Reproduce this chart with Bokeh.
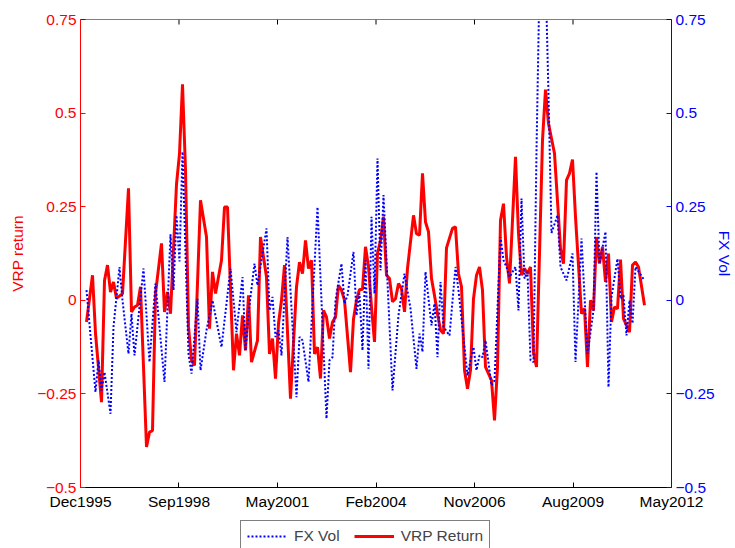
import math
from bokeh.plotting import figure
from bokeh.layouts import column
from bokeh.models import Range1d, LinearAxis, FixedTicker, Legend, LegendItem, Span
from bokeh.embed import file_html
from bokeh.resources import INLINE

# ---- data (month offsets counted from Dec 1995) ----
vrp_month = [2, 4, 5, 7, 8, 9, 10, 11, 12, 14, 16, 17, 18, 19, 20, 22, 23, 24, 25, 27,
             28, 29, 30, 32, 33, 34, 35, 36, 37, 38, 40, 42, 43, 44, 45, 47, 48, 49, 51, 52,
             53, 54, 55, 56, 57, 59, 60, 62, 63, 64, 65, 66, 67, 68, 70, 72, 73, 74, 75, 76,
             77, 78, 79, 80, 81, 82, 83, 84, 85, 86, 87, 88, 90, 91, 92, 93, 94, 95, 96, 97,
             98, 99, 100, 101, 102, 103, 104, 105, 106, 107, 108, 109, 110, 111, 112, 113, 114, 115, 116, 117,
             118, 119, 120, 121, 122, 124, 125, 126, 127, 128, 129, 130, 131, 132, 133, 134, 135, 137, 138, 139,
             140, 141, 142, 143, 145, 146, 147, 148, 149, 150, 151, 152, 154, 155, 156, 158, 160, 161, 162, 163,
             164, 165, 167, 168, 169, 170, 171, 172, 173, 174, 175, 176, 177, 178, 179, 180, 181, 182, 183, 184,
             185, 186, 188]
vrp_return = [-0.058, 0.067, -0.088, -0.272, 0.053, 0.094, 0.022, 0.049, 0.005, 0.018, 0.299, -0.031, -0.018, -0.013, 0.036, -0.392, -0.352, -0.348, 0.018, 0.152,
              -0.031, 0.022, -0.036, 0.310, 0.392, 0.577, 0.348, -0.071, -0.160, -0.174, 0.267, 0.169, -0.076, 0.076, 0.018, 0.107, 0.249, 0.249, -0.187, -0.089,
              -0.147, -0.040, -0.134, 0.013, -0.165, -0.107, 0.169, 0.062, -0.143, -0.102, -0.209, -0.062, 0.000, 0.094, -0.263, 0.036, 0.102, 0.071, 0.160, 0.085,
              0.107, -0.143, -0.125, -0.209, -0.027, -0.045, -0.102, -0.058, -0.045, 0.040, 0.027, 0.000, -0.192, -0.050, 0.000, 0.029, 0.029, 0.143, 0.089, -0.018,
              -0.111, 0.125, 0.160, 0.223, 0.067, 0.058, -0.004, 0.004, 0.045, 0.031, -0.031, 0.085, 0.156, 0.227, 0.178, 0.174, 0.339, 0.209, 0.183, 0.058,
              0.013, -0.036, -0.080, -0.089, 0.140, 0.192, 0.196, 0.071, 0.036, -0.187, -0.236, -0.187, 0.004, 0.067, 0.089, 0.027, -0.178, -0.214, -0.321, -0.178,
              0.214, 0.258, 0.116, 0.045, 0.383, 0.178, 0.067, 0.085, 0.071, 0.089, -0.140, -0.178, 0.428, 0.563, 0.472, 0.392, 0.138, 0.098, 0.321, 0.339,
              0.376, 0.223, -0.036, -0.022, -0.178, 0.000, -0.027, 0.169, 0.098, 0.143, 0.049, 0.125, -0.058, -0.018, -0.022, 0.109, -0.049, -0.067, -0.085, 0.094,
              0.102, 0.089, -0.013]

fx_month = [2, 5, 6, 7, 8, 10, 11, 13, 14, 16, 17, 18, 21, 23, 25, 28, 30, 31, 32, 33,
            34, 36, 37, 39, 40, 42, 44, 47, 50, 52, 54, 55, 56, 58, 59, 62, 63, 64, 65, 66,
            67, 69, 72, 73, 74, 76, 79, 82, 83, 84, 85, 87, 88, 89, 91, 92, 93, 94, 95, 96,
            97, 98, 99, 100, 101, 102, 104, 106, 108, 110, 112, 113, 114, 115, 117, 118, 119, 120, 121, 123,
            125, 126, 129, 130, 131, 132, 133, 134, 135, 137, 138, 140, 141, 142, 143, 145, 146, 147, 148, 149,
            150, 151, 152, 153, 155, 156, 157, 159, 160, 162, 164, 165, 167, 169, 171, 172, 173, 175, 176, 177,
            179, 180, 181, 182, 183, 184, 185, 188]
fx_vol = [0.027, -0.245, -0.160, -0.241, -0.192, -0.303, -0.071, 0.089, 0.000, -0.143, -0.036, -0.147, 0.085, -0.165, 0.045, -0.218, 0.176, 0.027, 0.227, 0.104,
          0.397, -0.143, -0.196, 0.004, -0.187, -0.080, 0.000, -0.125, 0.085, -0.085, 0.062, -0.134, -0.036, 0.098, 0.040, 0.192, -0.027, 0.009, -0.098, -0.080,
          -0.147, 0.169, -0.259, -0.098, -0.107, -0.218, 0.249, -0.316, -0.160, -0.152, 0.000, 0.098, -0.009, 0.013, 0.129, -0.040, 0.018, -0.134, 0.107, -0.183,
          0.223, 0.018, 0.379, 0.080, 0.281, 0.107, -0.241, -0.040, 0.071, -0.022, -0.183, -0.089, -0.138, 0.076, -0.067, -0.009, -0.152, 0.049, -0.071, -0.094,
          0.089, 0.027, -0.201, -0.160, -0.125, -0.187, -0.147, -0.152, -0.107, -0.227, -0.214, 0.169, 0.107, 0.089, 0.062, 0.089, -0.027, 0.272, 0.058, 0.076,
          -0.160, -0.165, 0.400, 0.850, 0.880, 0.550, 0.180, 0.227, 0.089, 0.053, 0.125, -0.165, 0.165, -0.143, -0.027, 0.343, 0.098, 0.183, -0.232, 0.009,
          0.111, 0.004, 0.013, -0.094, 0.000, -0.062, 0.089, 0.053]

x_tick_labels = ["Dec1995", "Sep1998", "May2001", "Feb2004", "Nov2006", "Aug2009", "May2012"]
x_span_months = 197
y_ticks = [-0.5, -0.25, 0, 0.25, 0.5, 0.75]
y_tick_labels = ["\u22120.5", "\u22120.25", "0", "0.25", "0.5", "0.75"]
y_min, y_max = -0.5, 0.75

RED = "#FF0000"
BLUE = "#0000FF"
FONT = "Liberation Sans"
FS = "15.5px"

x_ticks = [round(x_span_months * k / 6, 4) for k in range(7)]

p = figure(width=735, height=513, output_backend="svg", toolbar_location=None,
           x_range=Range1d(0, x_span_months), y_range=Range1d(y_min, y_max),
           min_border_left=80, min_border_right=60, min_border_top=19, min_border_bottom=26)
p.extra_y_ranges = {"fx": Range1d(y_min, y_max)}
p.grid.visible = False
p.outline_line_color = None
p.background_fill_color = "white"
p.border_fill_color = "white"

red_r = p.line(vrp_month, vrp_return, line_color=RED, line_width=3)
blue_r = p.line(fx_month, fx_vol, line_color=BLUE, line_width=2, line_dash="2 2",
                y_range_name="fx")

# top edge of the box, with inward ticks at the date ticks
p.add_layout(Span(location=y_max, dimension="width", line_color="black", line_width=1))
p.ray(x=x_ticks, y=[y_max] * len(x_ticks), length=5, length_units="screen",
      angle=-math.pi / 2, line_color="black", line_width=1)

def style(ax, color):
    ax.major_tick_in = 5
    ax.major_tick_out = 0
    ax.minor_tick_in = 0
    ax.minor_tick_out = 0
    ax.axis_line_color = color
    ax.major_tick_line_color = color
    ax.major_label_text_color = color
    ax.major_label_text_font = FONT
    ax.major_label_text_font_size = FS
    ax.axis_label_text_font = FONT
    ax.axis_label_text_font_size = FS
    ax.axis_label_text_font_style = "normal"
    ax.axis_label_text_color = color

# bottom x axis
xax = p.xaxis[0]
xax.ticker = FixedTicker(ticks=x_ticks)
xax.major_label_overrides = {t: l for t, l in zip(x_ticks, x_tick_labels)}
style(xax, "black")
xax.major_label_standoff = 5

# left y axis
yax = p.yaxis[0]
yax.ticker = FixedTicker(ticks=y_ticks)
yax.major_label_overrides = {t: l for t, l in zip(y_ticks, y_tick_labels)}
style(yax, RED)
yax.axis_label = "VRP return"
yax.major_label_standoff = 4
yax.axis_label_standoff = 8

# right y axis
rax = LinearAxis(y_range_name="fx", ticker=FixedTicker(ticks=y_ticks))
rax.major_label_overrides = {t: l for t, l in zip(y_ticks, y_tick_labels)}
style(rax, BLUE)
rax.axis_label = "FX Vol"
rax.major_label_standoff = 4
rax.axis_label_standoff = -2
p.add_layout(rax, "right")

# legend strip below the chart (same side borders as the chart so the frames align)
leg = figure(width=735, height=35, output_backend="svg", toolbar_location=None,
             x_range=Range1d(0, 1), y_range=Range1d(0, 1),
             min_border_left=80, min_border_top=0, min_border_right=60, min_border_bottom=0,
             x_axis_location=None, y_axis_location=None)
leg.grid.visible = False
leg.outline_line_color = None
leg.background_fill_color = "white"
leg.border_fill_color = "white"
# renderers kept outside the visible range: they only supply the legend glyphs
lb = leg.line(x=[5, 6], y=[5, 6], line_color=BLUE, line_width=2, line_dash="2 2")
lr = leg.line(x=[5, 6], y=[5, 6], line_color=RED, line_width=3)
legend = Legend(items=[LegendItem(label="FX Vol", renderers=[lb]),
                       LegendItem(label="VRP Return", renderers=[lr])],
                orientation="horizontal", location=(160, -4), margin=0,
                border_line_color="black", border_line_width=1,
                background_fill_color="white", background_fill_alpha=1,
                padding=6, spacing=14, label_standoff=7, glyph_width=40, glyph_height=16,
                label_text_font=FONT, label_text_font_size=FS, label_height=16)
leg.add_layout(legend, "center")

layout = column(p, leg, spacing=0)
open("out.html", "w").write(file_html(layout, INLINE))
